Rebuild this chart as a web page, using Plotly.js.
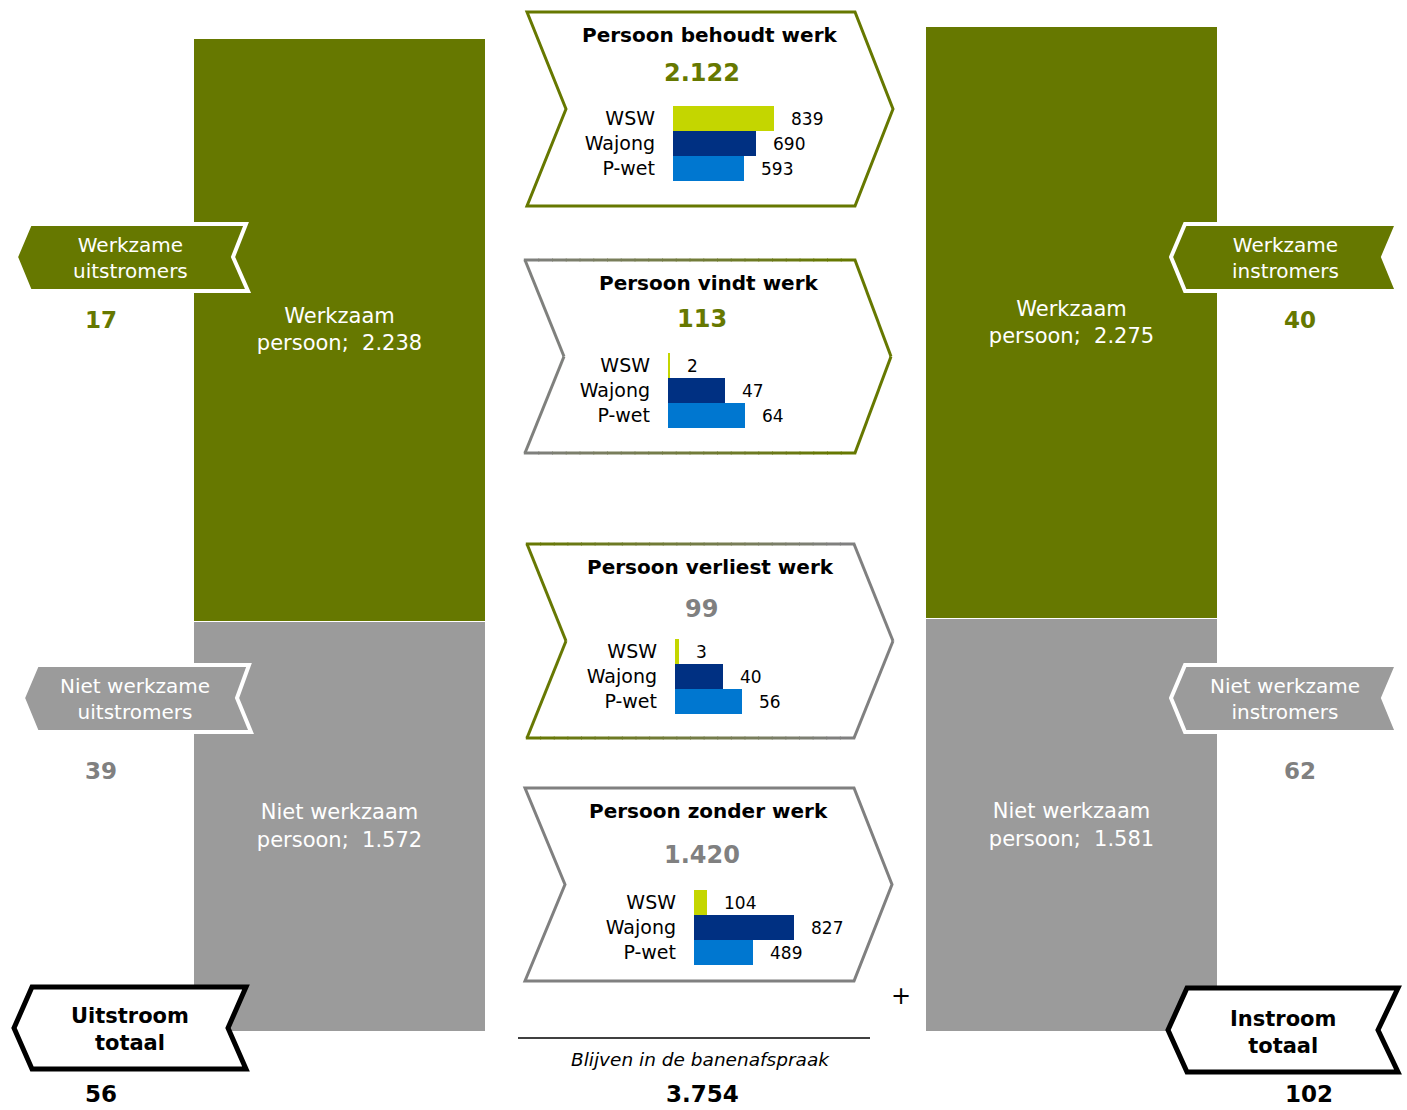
<!DOCTYPE html>
<html>
<head>
<meta charset="utf-8">
<script src="https://cdn.plot.ly/plotly-3.0.1.min.js"></script>
<style>html,body{margin:0;padding:0;background:#fff;}#chart{width:1407px;height:1110px;}</style>
</head>
<body>
<div id="chart"></div>
<script>
// ---------- data ----------
const flowCategories = ['Uitstroom', 'Instroom'];
const werkzaamPersoon = [2238, 2275];
const nietWerkzaamPersoon = [1572, 1581];
const uitstroomValues = [17, 39];   // werkzame, niet werkzame uitstromers
const instroomValues = [40, 62];    // werkzame, niet werkzame instromers
const regelingen = ['WSW', 'Wajong', 'P-wet'];
const behoudtWerk = [839, 690, 593];
const vindtWerk = [2, 47, 64];
const verliestWerk = [3, 40, 56];
const zonderWerk = [104, 827, 489];
const boxTitles = ['Persoon behoudt werk', 'Persoon vindt werk', 'Persoon verliest werk', 'Persoon zonder werk'];

// ---------- helpers ----------
const W = 1407, H = 1110;
const px = x => x / W;
const py = y => 1 - y / H;
const sum = a => a.reduce((s, v) => s + v, 0);
const fmt = n => String(n).replace(/\B(?=(\d{3})+(?!\d))/g, '.');
const FONT = 'DejaVu Sans, Verdana, sans-serif';
const GREEN = '#667800', GREYBAR = '#9b9b9b', GREYLINE = '#808080', GREYTXT = '#808080';
const REGCOLORS = ['#c4d600', '#003082', '#0077d0'];

function pathOf(pts) {
  return 'M' + pts.map(p => px(p[0]).toFixed(5) + ',' + py(p[1]).toFixed(5)).join('L') + 'Z';
}
function hex2rgb(h) { return [1, 3, 5].map(i => parseInt(h.substr(i, 2), 16)); }
function lerpColor(a, b, t) {
  const A = hex2rgb(a), B = hex2rgb(b);
  return 'rgb(' + A.map((v, i) => Math.round(v + (B[i] - v) * t)).join(',') + ')';
}

const shapes = [];
const annotations = [];

// ---------- main stacked bars ----------
const k = 993 / 3810; // px per unit
const traces = [
  {
    type: 'bar', x: flowCategories, y: nietWerkzaamPersoon, width: 0.3985,
    marker: { color: GREYBAR, line: { color: '#ffffff', width: 1 } },
    text: nietWerkzaamPersoon.map(v => 'Niet werkzaam<br>persoon;\u00a0 ' + fmt(v)),
    textposition: 'inside', insidetextanchor: 'middle', textangle: 0, constraintext: 'none',
    textfont: { color: '#ffffff', size: 21, family: FONT },
    hoverinfo: 'skip', xaxis: 'x', yaxis: 'y'
  },
  {
    type: 'bar', x: flowCategories, y: werkzaamPersoon, width: 0.3985,
    marker: { color: GREEN, line: { color: '#ffffff', width: 1 } },
    text: werkzaamPersoon.map(v => 'Werkzaam<br>persoon;\u00a0 ' + fmt(v)),
    textposition: 'inside', insidetextanchor: 'middle', textangle: 0, constraintext: 'none',
    textfont: { color: '#ffffff', size: 21, family: FONT },
    hoverinfo: 'skip', xaxis: 'x', yaxis: 'y'
  }
];

const layout = {
  width: W, height: H,
  margin: { l: 0, r: 0, t: 0, b: 0, pad: 0 },
  paper_bgcolor: '#ffffff', plot_bgcolor: 'rgba(0,0,0,0)',
  showlegend: false, barmode: 'stack', bargap: 0, hovermode: false,
  font: { family: FONT, color: '#000000' },
  xaxis: { domain: [0, 1], type: 'category', range: [-339.5 / 732, (W - 339.5) / 732], visible: false, fixedrange: true },
  yaxis: { domain: [1 - 1031 / H, 1], range: [0, 1031 / k], visible: false, fixedrange: true },
  shapes: shapes, annotations: annotations
};

// ---------- central boxes with mini bar charts ----------
const boxes = [
  { data: behoudtWerk, l: 527, r: 855, t: 12, b: 206, tip: 893, notch: 566, c1: GREEN, c2: GREEN, numColor: GREEN,
    titleY: 35, titleX: 710, numY: 73, numX: 702, x0: 673, y0: 106, scale: 0.1205 },
  { data: vindtWerk, l: 525, r: 855, t: 260, b: 453, tip: 891, notch: 564, c1: GREYLINE, c2: GREEN, numColor: GREEN,
    titleY: 283, titleX: 709, numY: 319, numX: 702, x0: 668, y0: 353, scale: 1.205 },
  { data: verliestWerk, l: 527, r: 854, t: 544, b: 738, tip: 893, notch: 566, c1: GREEN, c2: GREYLINE, numColor: GREYTXT,
    titleY: 567, titleX: 710, numY: 609, numX: 701, x0: 675, y0: 639, scale: 1.205 },
  { data: zonderWerk, l: 525, r: 854, t: 788, b: 981, tip: 892, notch: 565, c1: GREYLINE, c2: GREYLINE, numColor: GREYTXT,
    titleY: 811, titleX: 708, numY: 855, numX: 702, x0: 694, y0: 890, scale: 0.1205 }
];

const LW = 3;
boxes.forEach((bx, i) => {
  const m = (bx.t + bx.b) / 2;
  if (bx.c1 === bx.c2) {
    shapes.push({ type: 'path', xref: 'paper', yref: 'paper', layer: 'above',
      path: pathOf([[bx.l, bx.t], [bx.r, bx.t], [bx.tip, m], [bx.r, bx.b], [bx.l, bx.b], [bx.notch, m]]),
      line: { color: bx.c1, width: LW }, fillcolor: 'rgba(0,0,0,0)' });
  } else {
    const span = (bx.tip - bx.l) * 0.85;
    const col = x => lerpColor(bx.c1, bx.c2, Math.min(1, Math.max(0, (x - bx.l) / span)));
    const seg = (x1, y1, x2, y2, c) => shapes.push({ type: 'line', xref: 'paper', yref: 'paper', layer: 'above',
      x0: px(x1), y0: py(y1), x1: px(x2), y1: py(y2), line: { color: c, width: LW } });
    // left notch
    seg(bx.l, bx.t, bx.notch, m, col(bx.l + 8));
    seg(bx.notch, m, bx.l, bx.b, col(bx.l + 8));
    // right tip
    seg(bx.r, bx.t, bx.tip, m, col(bx.tip - 10));
    seg(bx.tip, m, bx.r, bx.b, col(bx.tip - 10));
    const N = 24;
    for (let s = 0; s < N; s++) {
      const xa = bx.l + (bx.r - bx.l) * s / N - (s ? 0.5 : 1.2);
      const xb = bx.l + (bx.r - bx.l) * (s + 1) / N + (s === N - 1 ? 1.2 : 0.5);
      const c = col((xa + xb) / 2);
      seg(xa, bx.t, xb, bx.t, c);
      seg(xa, bx.b, xb, bx.b, c);
    }
  }
  // titles
  annotations.push({ xref: 'paper', yref: 'paper', x: px(bx.titleX), y: py(bx.titleY), xanchor: 'center', yanchor: 'middle',
    text: '<b>' + boxTitles[i] + '</b>', showarrow: false, font: { size: 20, color: '#000', family: FONT } });
  annotations.push({ xref: 'paper', yref: 'paper', x: px(bx.numX), y: py(bx.numY), xanchor: 'center', yanchor: 'middle',
    text: '<b>' + fmt(sum(bx.data)) + '</b>', showarrow: false, font: { size: 24, color: bx.numColor, family: FONT } });

  // mini chart
  const n = i + 2;
  const wpx = 140;
  layout['xaxis' + n] = { domain: [px(bx.x0), px(bx.x0 + wpx)], range: [0, wpx / bx.scale], anchor: 'y' + n,
    visible: false, fixedrange: true };
  layout['yaxis' + n] = { domain: [py(bx.y0 + 75), py(bx.y0)], type: 'category', categoryorder: 'array',
    categoryarray: regelingen, range: [2.5, -0.5], anchor: 'x' + n, showgrid: false, zeroline: false, showline: false,
    ticks: '', ticklabelstandoff: 17, automargin: false, fixedrange: true,
    tickfont: { size: 19, color: '#000', family: FONT } };
  traces.push({ type: 'bar', orientation: 'h', x: bx.data, y: regelingen, xaxis: 'x' + n, yaxis: 'y' + n,
    marker: { color: REGCOLORS }, hoverinfo: 'skip' });
  bx.data.forEach((v, j) => annotations.push({ xref: 'x' + n, yref: 'y' + n, x: v, y: regelingen[j],
    xanchor: 'left', yanchor: 'middle', xshift: 15, text: String(v), showarrow: false,
    font: { size: 17, color: '#000', family: FONT } }));
});

// ---------- side arrows ----------
function sideArrow(pts, fill, lineColor, lw) {
  shapes.push({ type: 'path', xref: 'paper', yref: 'paper', layer: 'above', path: pathOf(pts),
    fillcolor: fill, line: { color: lineColor, width: lw } });
}
function label(x, y, text, size, color) {
  annotations.push({ xref: 'paper', yref: 'paper', x: px(x), y: py(y), xanchor: 'center', yanchor: 'middle',
    text: text, showarrow: false, font: { size: size, color: color, family: FONT } });
}
// left: uitstromers
sideArrow([[30, 224], [246, 224], [233, 257], [248, 291], [30, 291], [16, 257]], GREEN, '#ffffff', 4);
label(130, 258, 'Werkzame<br>uitstromers', 20, '#ffffff');
label(101, 320, '<b>' + uitstroomValues[0] + '</b>', 23, GREEN);
sideArrow([[37, 665], [249, 665], [237, 698], [251, 732], [37, 732], [23, 698]], GREYBAR, '#ffffff', 4);
label(135, 699, 'Niet werkzame<br>uitstromers', 20, '#ffffff');
label(101, 771, '<b>' + uitstroomValues[1] + '</b>', 23, GREYTXT);
// right: instromers
sideArrow([[1185, 224], [1397, 224], [1383, 257], [1397, 291], [1185, 291], [1171, 257]], GREEN, '#ffffff', 4);
label(1285, 258, 'Werkzame<br>instromers', 20, '#ffffff');
label(1300, 320, '<b>' + instroomValues[0] + '</b>', 23, GREEN);
sideArrow([[1185, 665], [1397, 665], [1383, 698], [1397, 732], [1185, 732], [1171, 698]], GREYBAR, '#ffffff', 4);
label(1285, 699, 'Niet werkzame<br>instromers', 20, '#ffffff');
label(1300, 771, '<b>' + instroomValues[1] + '</b>', 23, GREYTXT);
// totals
sideArrow([[32, 987], [246, 987], [228, 1028], [246, 1069], [32, 1069], [14, 1028]], '#ffffff', '#000000', 5);
label(130, 1029, '<b>Uitstroom<br>totaal</b>', 21, '#000');
label(101, 1094, '<b>' + sum(uitstroomValues) + '</b>', 23, '#000');
sideArrow([[1187, 988], [1398, 988], [1378, 1030], [1398, 1072], [1187, 1072], [1168, 1030]], '#ffffff', '#000000', 5);
label(1283, 1032, '<b>Instroom<br>totaal</b>', 21, '#000');
label(1309, 1094, '<b>' + sum(instroomValues) + '</b>', 23, '#000');

// ---------- bottom centre ----------
label(901, 996, '+', 24, '#000');
shapes.push({ type: 'line', xref: 'paper', yref: 'paper', x0: px(518), x1: px(870), y0: py(1038), y1: py(1038),
  line: { color: '#000', width: 1.5 } });
label(700, 1059, '<i>Blijven in de banenafspraak</i>', 18.5, '#000');
const blijven = sum(behoudtWerk) + sum(vindtWerk) + sum(verliestWerk) + sum(zonderWerk);
label(702, 1094, '<b>' + fmt(blijven) + '</b>', 23, '#000');

Plotly.newPlot('chart', traces, layout, { staticPlot: true, displayModeBar: false });
</script>
</body>
</html>
